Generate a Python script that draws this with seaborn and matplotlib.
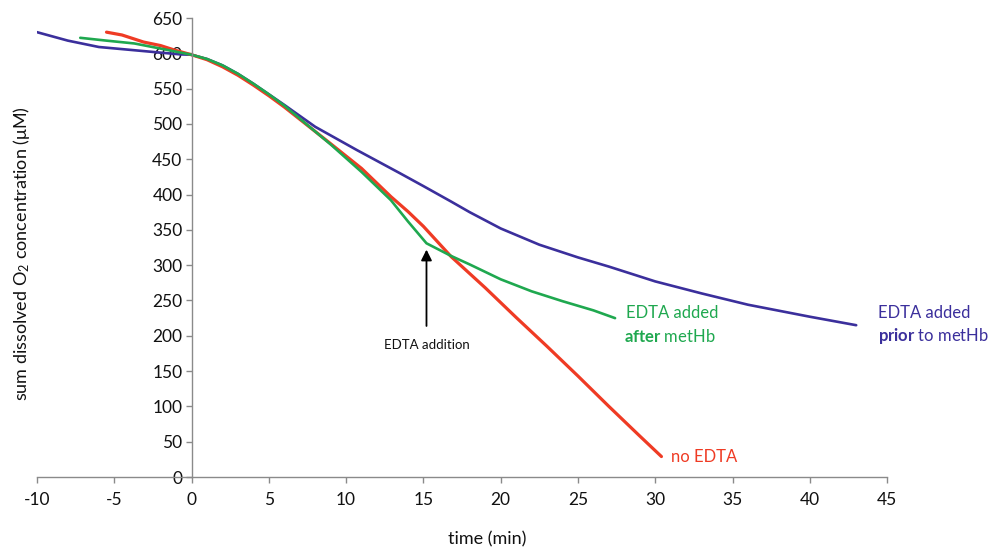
import matplotlib
matplotlib.use("Agg")
import matplotlib.pyplot as plt
import seaborn as sns
import pandas as pd

# ---- data ----
prior_t = [-10, -8, -6, -4, -2, -0.7, 0, 1, 2, 3, 4, 5, 6, 8, 10.7, 13.5, 15, 16.8, 18, 20, 22.5, 25, 27, 30, 33, 36, 40, 43]
prior_o2 = [630, 618, 609, 605, 601, 598.5, 598, 592, 583, 571, 557, 542, 527, 496, 463, 430, 412, 390, 375, 352, 329, 311, 298, 277, 260, 244, 227, 215]

none_t = [-5.5, -4.5, -3.1, -2, -1.15, 0, 1, 2, 3, 4, 5, 6, 9, 11, 12.9, 14, 15, 16.8, 19, 21, 23, 25, 27, 29, 30.4]
none_o2 = [630, 626, 616, 611, 605, 598, 591, 581, 569, 555, 540, 524, 472, 437, 397, 376, 355, 312, 268, 226, 185, 143, 100, 58, 29]

after_t = [-7.2, -5.5, -3.7, -1.6, 0, 1, 2, 3, 4, 5, 6, 9, 11, 12.9, 14, 15.2, 16, 16.8, 18, 20, 22, 24, 26, 27.4]
after_o2 = [622, 618, 614, 605, 598, 592, 583, 571, 557, 542, 526, 471, 432, 392, 362, 331, 322, 313, 301, 280, 263, 249, 236, 225]

x_ticks = [-10, -5, 0, 5, 10, 15, 20, 25, 30, 35, 40, 45]
y_ticks = [0, 50, 100, 150, 200, 250, 300, 350, 400, 450, 500, 550, 600, 650]

c_blue = "#3b2f9c"
c_red = "#ef3b24"
c_green = "#1fa84f"
c_axis = "#8a8a8a"

sns.set_theme(style="white")
plt.rcParams["font.family"] = ["Lato", "DejaVu Sans"]
plt.rcParams["mathtext.fontset"] = "custom"
plt.rcParams["mathtext.rm"] = "Lato"
plt.rcParams["mathtext.bf"] = "Lato:bold"
plt.rcParams["mathtext.it"] = "Lato:italic"
plt.rcParams["mathtext.default"] = "regular"

fig = plt.figure(figsize=(9.99, 5.5), dpi=100)
ax = fig.add_axes([0.037, 0.1327, 0.851, 0.8345])

df_prior = pd.DataFrame({"t": prior_t, "o2": prior_o2})
df_none = pd.DataFrame({"t": none_t, "o2": none_o2})
df_after = pd.DataFrame({"t": after_t, "o2": after_o2})

sns.lineplot(data=df_prior, x="t", y="o2", color=c_blue, lw=1.9, sort=False, estimator=None, ax=ax)
sns.lineplot(data=df_none, x="t", y="o2", color=c_red, lw=2.3, sort=False, estimator=None, ax=ax)
sns.lineplot(data=df_after, x="t", y="o2", color=c_green, lw=1.9, sort=False, estimator=None, ax=ax)

ax.set_xlim(-10, 45)
ax.set_ylim(0, 650)
ax.set_xticks(x_ticks)
ax.set_yticks(y_ticks)
ax.set_xticklabels([str(v) for v in x_ticks])
ax.set_yticklabels([str(v) for v in y_ticks])

for s in ["top", "right"]:
    ax.spines[s].set_visible(False)
ax.spines["left"].set_position(("data", 0))
ax.spines["bottom"].set_position(("data", 0))
for s in ["left", "bottom"]:
    ax.spines[s].set_color(c_axis)
    ax.spines[s].set_linewidth(1.0)

ax.tick_params(axis="both", which="major", direction="out", length=4.5, width=1.0,
               color=c_axis, labelsize=12.5, labelcolor="#111111")
ax.tick_params(axis="y", pad=2)
ax.tick_params(axis="x", pad=6)
ax.yaxis.set_ticks_position("left")
ax.xaxis.set_ticks_position("bottom")

ax.set_xlabel("time (min)", fontsize=13, color="#111111")
ax.set_ylabel(r"sum dissolved O$_2$ concentration (μM)", fontsize=13, color="#111111")
ax.xaxis.set_label_coords(0.529, -0.118)
ax.yaxis.set_label_coords(-0.006, 0.486)

# arrow annotation
ax.annotate("", xy=(15.2, 326), xytext=(15.2, 210),
            arrowprops=dict(arrowstyle="-|>", color="black", lw=1.3, mutation_scale=16))
ax.text(15.25, 187, "EDTA addition", fontsize=9.5, color="#111111", ha="center", va="center")

# series labels
ax.text(31.0, 29, "no EDTA", fontsize=12, color=c_red, ha="left", va="center")
ax.text(28.1, 232, "EDTA added", fontsize=12, color=c_green, ha="left", va="center")
ax.text(27.95, 199, r"$\mathbf{after}$ metHb", fontsize=12, color=c_green, ha="left", va="center")
ax.text(44.4, 232, "EDTA added", fontsize=12, color=c_blue, ha="left", va="center", clip_on=False)
ax.text(44.4, 199, r"$\mathbf{prior}$ to metHb", fontsize=12, color=c_blue, ha="left", va="center", clip_on=False)

fig.savefig("out.png", dpi=100)
